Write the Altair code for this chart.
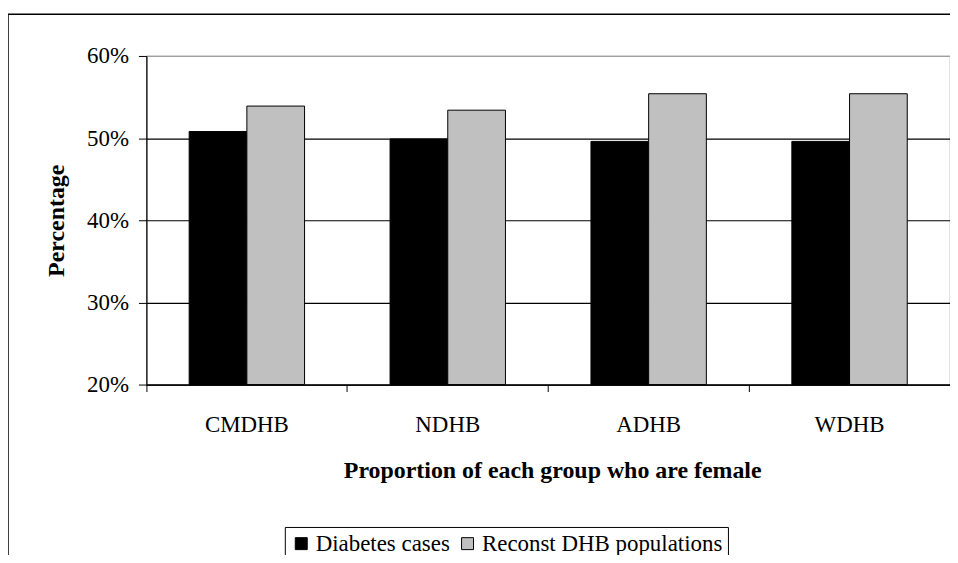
import altair as alt
import pandas as pd

categories = ["CMDHB", "NDHB", "ADHB", "WDHB"]
series = ["Diabetes cases", "Reconst DHB populations"]
diabetes_cases = [0.508, 0.499, 0.496, 0.496]
reconst_pop = [0.539, 0.534, 0.554, 0.554]
y_ticks = [0.2, 0.3, 0.4, 0.5, 0.6]

rows = []
for i, c in enumerate(categories):
    rows.append({"group": c, "series": series[0], "value": diabetes_cases[i]})
    rows.append({"group": c, "series": series[1], "value": reconst_pop[i]})
df = pd.DataFrame(rows)

FONT = "Liberation Serif"
W, H = 807, 330

x_scale = alt.Scale(domain=categories, paddingInner=0, paddingOuter=0)
xoff_scale = alt.Scale(domain=series, paddingInner=0, paddingOuter=0.741)
y_enc = alt.Y(
    "value:Q",
    scale=alt.Scale(domain=[0.2, 0.6], zero=False, nice=False),
    axis=alt.Axis(
        values=y_ticks, format=".0%", tickSize=8, labelPadding=10,
        labelFont=FONT, labelFontSize=23, labelColor="black",
        domainColor="black", tickColor="black", domainWidth=1.2,
        grid=True,
        gridColor={"condition": {"test": "datum.value > 0.59", "value": "#a0a0a0"}, "value": "black"},
        gridWidth=1.2,
        title="Percentage", titleFont=FONT, titleFontSize=24, titleFontWeight="bold",
        titleColor="black", titleX=-90, titleY=H / 2, titleBaseline="middle", titleAngle=-90,
    ),
)
color_enc = alt.Color(
    "series:N",
    scale=alt.Scale(domain=series, range=["black", "#c0c0c0"]),
    legend=alt.Legend(
        orient="none", legendX=139, legendY=473, direction="horizontal",
        title=None, symbolType="square", symbolSize=144,
        symbolStrokeColor="black", symbolStrokeWidth=1,
        labelFont=FONT, labelFontSize=23, labelColor="black",
        strokeColor="black", fillColor="white", padding=5,
        columnPadding=6, labelOffset=3, labelLimit=400,
    ),
)

base = alt.Chart(df)

bars = base.mark_bar(stroke="black", strokeWidth=1).encode(
    x=alt.X("group:N", scale=x_scale, sort=categories,
            axis=alt.Axis(orient="bottom", ticks=False, labelAngle=0, labelPadding=29,
                          labelFont=FONT, labelFontSize=23, labelColor="black",
                          domainColor="black", domainWidth=1.2,
                          title="Proportion of each group who are female",
                          titleFont=FONT, titleFontSize=24, titleFontWeight="bold",
                          titleColor="black", titleX=W / 2 + 4, titleY=86,
                          titleBaseline="middle", titleAlign="center")),
    xOffset=alt.XOffset("series:N", scale=xoff_scale, sort=series),
    y=y_enc,
    y2=alt.datum(0.2),
    color=color_enc,
)

ticks_layer = base.mark_bar(opacity=0).encode(
    x=alt.X("group:N", scale=x_scale, sort=categories,
            axis=alt.Axis(orient="bottom", labels=False, ticks=True, tickSize=7,
                          tickColor="black", bandPosition=1, tickExtra=True,
                          domain=False, grid=False, title=None)),
    y=y_enc,
    y2=alt.datum(0.2),
)

frame = alt.Chart(pd.DataFrame({"k": [0]})).mark_rect(
    fill=None, stroke="black", strokeWidth=1.5
).encode(
    x=alt.value(-139), x2=alt.value(830),
    y=alt.value(-42), y2=alt.value(530),
)

chart = alt.layer(frame, bars, ticks_layer).resolve_scale(x="shared").resolve_axis(
    x="independent"
).properties(
    width=W, height=H,
    autosize=alt.AutoSizeParams(type="none"),
    padding={"left": 139, "top": 47, "right": 0, "bottom": 170},
).configure(
    font=FONT
).configure_axis(
    labelFont=FONT, titleFont=FONT, labelColor="black", titleColor="black"
).configure_legend(
    labelFont=FONT, labelColor="black"
).configure_view(stroke="#a0a0a0", strokeWidth=1.2)

chart.save("out.html", embed_options={"renderer": "svg", "actions": False})
